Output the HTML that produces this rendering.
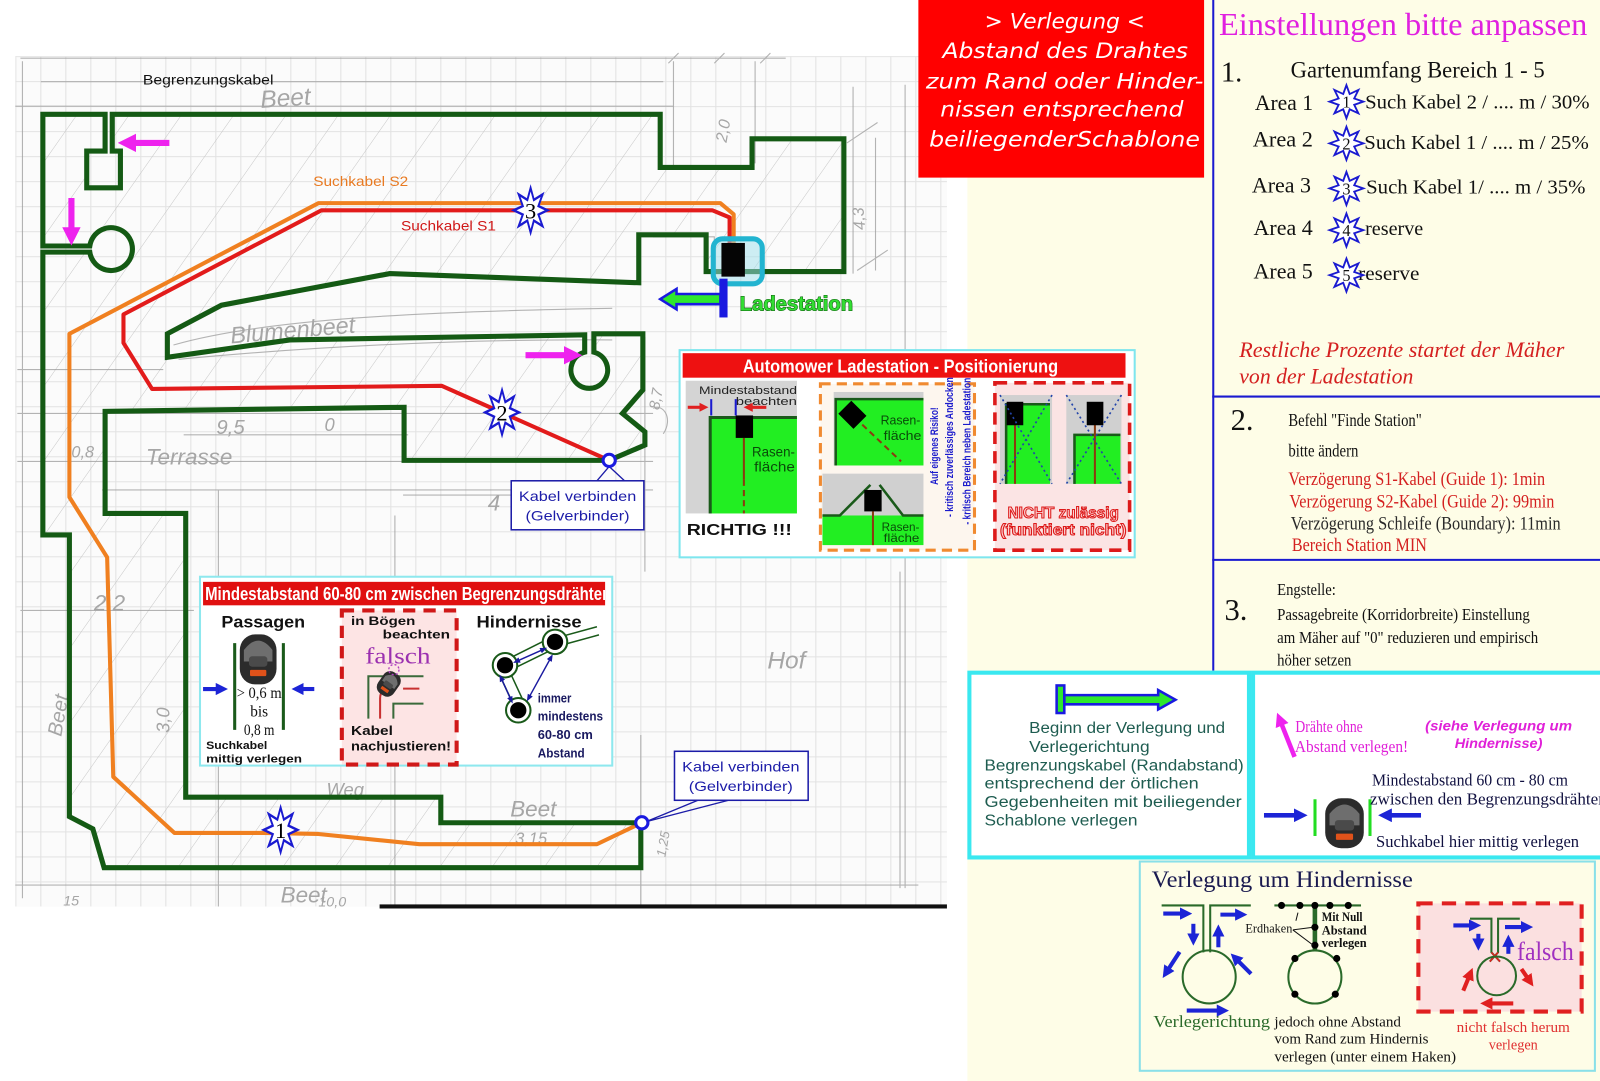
<!DOCTYPE html>
<html><head><meta charset="utf-8"><title>Verlegung Begrenzungskabel</title>
<style>
html,body{margin:0;padding:0;background:#fff;overflow:hidden;}
svg{display:block;}
.ser{font-family:"Liberation Serif","DejaVu Serif",serif;}
.san{font-family:"Liberation Sans","DejaVu Sans",sans-serif;}
.dv{font-family:"DejaVu Sans","Liberation Sans",sans-serif;}
.pen{font-family:"Liberation Sans",sans-serif;font-style:italic;fill:#a6a6a6;}
</style></head><body>
<svg xmlns="http://www.w3.org/2000/svg" width="1600" height="1081" viewBox="0 0 1568 1059" preserveAspectRatio="none">
<defs>
 <pattern id="grid" x="15" y="55" width="24.5" height="24.5" patternUnits="userSpaceOnUse">
  <path d="M0.5 0V24.5M0 0.5H24.5" stroke="#e2e2e2" stroke-width="1" fill="none"/>
 </pattern>
 <pattern id="hatch" width="42" height="42" patternUnits="userSpaceOnUse" patternTransform="rotate(35)">
  <line x1="0" y1="0" x2="0" y2="42" stroke="#c2c2c2" stroke-width="0.9"/>
 </pattern>
 <clipPath id="lawn"><path d="M42,112 H103 V148 H85 V184 H118 V148 H110 V112 H647 V164 H737 V136 H827 V266 H692 V230 H626 V277 L382,268 L217,299 L164,327 L164,350 L284,333 L573,328 V345 A18,18 0 1 0 582,345 V327 H630 V382 L610,405 L632,423 V436 L597,451 H396 V399 L103,403 V503 H182 V781 H432 V806 H628 V850 H102 L91,812 L68,800 V524 H42 V247 H88 A21,21 0 1 0 88,241 H42 Z"/></clipPath>
 <clipPath id="titleclip"><rect x="199" y="570" width="394" height="23"/></clipPath>
 <marker id="mBlue" viewBox="0 0 10 10" refX="3" refY="5" markerWidth="3" markerHeight="3" orient="auto"><path d="M0,0L10,5L0,10z" fill="#1c24d6"/></marker>
 <marker id="mRed" viewBox="0 0 10 10" refX="3" refY="5" markerWidth="3" markerHeight="3" orient="auto"><path d="M0,0L10,5L0,10z" fill="#e02020"/></marker>
 <marker id="mMag" viewBox="0 0 10 10" refX="3" refY="5" markerWidth="3" markerHeight="3" orient="auto"><path d="M0,0L10,5L0,10z" fill="#ee22ee"/></marker>
 <marker id="mNavy" viewBox="0 0 10 10" refX="5" refY="5" markerWidth="5" markerHeight="5" orient="auto-start-reverse"><path d="M0,1L10,5L0,9z" fill="#1a1aa0"/></marker>
 <g id="star"><polygon points="0,-18 3.44,-8.31 12.73,-12.73 8.31,-3.44 18,0 8.31,3.44 12.73,12.73 3.44,8.31 0,18 -3.44,8.31 -12.73,12.73 -8.31,3.44 -18,0 -8.31,-3.44 -12.73,-12.73 -3.44,-8.31" fill="#fff" stroke="#1a1ad0" stroke-width="2"/></g>
 <g id="mower">
  <rect x="-18" y="-24" width="36" height="48" rx="15" fill="#2b2b2b"/>
  <path d="M-14,-9 Q0,-27 14,-9 V2 H-14 Z" fill="#6e6e6e"/>
  <rect x="-9" y="-3" width="18" height="10" rx="3" fill="#4a4a4a"/>
  <rect x="-8" y="10" width="16" height="6" rx="1" fill="#e0521a"/>
 </g>
</defs>

<!-- base backgrounds -->
<rect x="0" y="0" width="1568" height="1059" fill="#ffffff"/>
<rect x="15" y="55" width="913" height="833" fill="#fbfbfb"/>
<rect x="15" y="55" width="913" height="833" fill="url(#grid)"/>
<rect x="948" y="0" width="620" height="1059" fill="#fefde7"/>

<!-- hatching in lawn -->
<rect x="15" y="55" width="913" height="833" fill="url(#hatch)" clip-path="url(#lawn)"/>

<!-- pencil sketch lines -->
<g stroke="#9c9c9c" stroke-width="1.1" fill="none" opacity="0.75">
 <path d="M20,57 H770 M40,80 H650 M15,104 H660 M22,60 V880 M660,60 V165 M740,60 V160 M836,85 V268 M887,83 V870 M858,135 V265"/>
 <path d="M640,232 H700 V275 M17,362 H160 M17,405 H640 M180,426 H400 M17,452 H640 M100,480 H640 M214,480 V888 M387,505 V888 M632,330 V560 M20,598 H190"/>
 <path d="M15,867 H900 M628,720 V888 M882,560 V870 M395,485 H620 M170,338 C260,312 420,305 600,302 M175,352 C300,340 450,332 600,333"/>
 <path d="M640,400 C650,395 660,410 650,425 M700,62 L710,52 M655,62 L665,52 M745,62 L755,52 M830,140 L860,120 M840,265 L870,245"/>
</g>

<!-- handwritten pencil labels -->
<g class="pen">
 <text x="255" y="104" font-size="24" transform="rotate(-4 280 95)">Beet</text>
 <text x="225" y="330" font-size="23" transform="rotate(-5 300 318)">Blumenbeet</text>
 <text x="143" y="455" font-size="22">Terrasse</text>
 <text x="212" y="425" font-size="20">9,5</text>
 <text x="318" y="422" font-size="18">0</text>
 <text x="70" y="448" font-size="16">0,8</text>
 <text x="478" y="500" font-size="22">4</text>
 <text x="92" y="598" font-size="22">2,2</text>
 <text x="752" y="655" font-size="24">Hof</text>
 <text x="320" y="780" font-size="18">Weg</text>
 <text x="500" y="800" font-size="22">Beet</text>
 <text x="505" y="827" font-size="16">3,15</text>
 <text x="275" y="884" font-size="22">Beet</text>
 <text x="62" y="887" font-size="14">15</text>
 <text x="312" y="888" font-size="14">10,0</text>
 <text x="0" y="0" font-size="20" transform="translate(60,722) rotate(-80)">Beet</text>
 <text x="0" y="0" font-size="18" transform="translate(166,718) rotate(-90)">3,0</text>
 <text x="0" y="0" font-size="16" transform="translate(712,140) rotate(-80)">2,0</text>
 <text x="0" y="0" font-size="16" transform="translate(848,225) rotate(-95)">4,3</text>
 <text x="0" y="0" font-size="15" transform="translate(646,402) rotate(-80)">8,7</text>
 <text x="0" y="0" font-size="13" transform="translate(652,840) rotate(-80)">1,25</text>
</g>

<!-- cables -->
<path d="M719,238 V210 L706,199 H312 L68,327 V487 L105,546 L111,761 L171,816 H258 L312,817 L411,827 H585 L629,806" fill="none" stroke="#f08020" stroke-width="4" stroke-linejoin="round"/>
<path d="M715,238 V213 L698,206 H315 L121,308 V336 L149,381 L433,378 L597,451" fill="none" stroke="#e21b1b" stroke-width="4" stroke-linejoin="round"/>
<path d="M42,112 H103 V148 H85 V184 H118 V148 H110 V112 H647 V164 H737 V136 H827 V266 H692 V230 H626 V277 L382,268 L217,299 L164,327 L164,350 L284,333 L573,328 V345 A18,18 0 1 0 582,345 V327 H630 V382 L610,405 L632,423 V436 L597,451 H396 V399 L103,403 V503 H182 V781 H432 V806 H628 V850 H102 L91,812 L68,800 V524 H42 V247 H88 A21,21 0 1 0 88,241 H42 Z" fill="none" stroke="#145a14" stroke-width="5" stroke-linejoin="miter"/>

<!-- bottom black line -->
<rect x="372" y="886" width="556" height="4" fill="#111"/>

<!-- station -->
<rect x="699" y="234" width="48" height="44" rx="9" fill="#9fe0ec" fill-opacity="0.5" stroke="#22b4d0" stroke-width="5"/>
<rect x="707" y="238" width="23" height="33" fill="#050505"/>
<rect x="705" y="273" width="8" height="38" fill="#1a1ae0"/>
<path d="M706,288 H663 V283 L647,293 L663,303 V298 H706 Z" fill="#2ee82e" stroke="#1a1ae0" stroke-width="2.5"/>
<text class="san" x="725" y="304" font-size="20" font-weight="bold" fill="#33dd33" stroke="#0b600b" stroke-width="1.1" paint-order="stroke" textLength="111" lengthAdjust="spacingAndGlyphs">Ladestation</text>

<!-- magenta arrows map -->
<line x1="166" y1="140" x2="128" y2="140" stroke="#ee22ee" stroke-width="6" marker-end="url(#mMag)"/>
<line x1="70" y1="194" x2="70" y2="228" stroke="#ee22ee" stroke-width="6" marker-end="url(#mMag)"/>
<line x1="515" y1="348" x2="558" y2="348" stroke="#ee22ee" stroke-width="6" marker-end="url(#mMag)"/>

<!-- map labels -->
<text class="san" x="140" y="83" font-size="14" fill="#111" textLength="128" lengthAdjust="spacingAndGlyphs">Begrenzungskabel</text>
<text class="san" x="307" y="182" font-size="14" fill="#e87a22" textLength="93" lengthAdjust="spacingAndGlyphs">Suchkabel S2</text>
<text class="san" x="393" y="226" font-size="14" fill="#d01818" textLength="93" lengthAdjust="spacingAndGlyphs">Suchkabel S1</text>

<!-- stars on map -->
<g transform="translate(520,206) scale(0.92,1.22)"><use href="#star"/></g>
<text class="ser" x="520" y="214" font-size="22" text-anchor="middle" fill="#000">3</text>
<g transform="translate(492,404) scale(0.92,1.22)"><use href="#star"/></g>
<text class="ser" x="492" y="412" font-size="22" text-anchor="middle" fill="#000">2</text>
<g transform="translate(275,813) scale(0.92,1.22)"><use href="#star"/></g>
<text class="ser" x="275" y="821" font-size="22" text-anchor="middle" fill="#000">1</text>

<!-- connectors & callouts -->
<path d="M585,471 L597,457 L612,471" fill="none" stroke="#1c1ca8" stroke-width="1.3"/>
<circle cx="597" cy="451" r="6" fill="#fff" stroke="#1a1ae0" stroke-width="3"/>
<rect x="501" y="471" width="130" height="48" fill="#fff" stroke="#1c1ca8" stroke-width="1.5"/>
<text class="san" x="566" y="491" font-size="14" fill="#1c1ca8" text-anchor="middle" textLength="115" lengthAdjust="spacingAndGlyphs">Kabel verbinden</text>
<text class="san" x="566" y="510" font-size="14" fill="#1c1ca8" text-anchor="middle" textLength="102" lengthAdjust="spacingAndGlyphs">(Gelverbinder)</text>

<path d="M684,784 L633,805 L714,784" fill="none" stroke="#1c1ca8" stroke-width="1.3"/>
<circle cx="629" cy="806" r="6" fill="#fff" stroke="#1a1ae0" stroke-width="3"/>
<rect x="661" y="736" width="131" height="48" fill="#fff" stroke="#1c1ca8" stroke-width="1.5"/>
<text class="san" x="726" y="756" font-size="14" fill="#1c1ca8" text-anchor="middle" textLength="115" lengthAdjust="spacingAndGlyphs">Kabel verbinden</text>
<text class="san" x="726" y="775" font-size="14" fill="#1c1ca8" text-anchor="middle" textLength="102" lengthAdjust="spacingAndGlyphs">(Gelverbinder)</text>

<!-- ===== Ladestation positioning box ===== -->
<rect x="666" y="343" width="446" height="203" fill="#fff" stroke="#7ee6ee" stroke-width="2"/>
<rect x="669" y="346" width="434" height="24" fill="#ee1111"/>
<text class="san" x="882.5" y="365" font-size="18" font-weight="bold" fill="#fff" text-anchor="middle" textLength="309" lengthAdjust="spacingAndGlyphs">Automower Ladestation - Positionierung</text>
<!-- panel 1 -->
<rect x="672" y="373" width="109" height="130" fill="#d4d4d4"/>
<rect x="695" y="409" width="86" height="94" fill="#22ee22"/>
<path d="M696,503 V409 H781" fill="none" stroke="#1a5a1a" stroke-width="3"/>
<line x1="729" y1="429" x2="729" y2="470" stroke="#8b3a10" stroke-width="2"/>
<line x1="729" y1="470" x2="729" y2="503" stroke="#8b3a10" stroke-width="2" stroke-dasharray="6 4"/>
<rect x="721" y="407" width="17" height="22" fill="#000"/>
<text class="san" x="781" y="386" font-size="11" fill="#222" text-anchor="end" textLength="96" lengthAdjust="spacingAndGlyphs">Mindestabstand</text>
<text class="san" x="781" y="397" font-size="11" fill="#222" text-anchor="end" textLength="60" lengthAdjust="spacingAndGlyphs">beachten</text>
<line x1="674" y1="399" x2="688" y2="399" stroke="#e02020" stroke-width="3" marker-end="url(#mRed)"/>
<line x1="751" y1="399" x2="735" y2="399" stroke="#e02020" stroke-width="3" marker-end="url(#mRed)"/>
<line x1="697" y1="391" x2="697" y2="407" stroke="#1a1ad0" stroke-width="2"/>
<line x1="721" y1="391" x2="721" y2="407" stroke="#1a1ad0" stroke-width="2"/>
<text class="san" x="737" y="447" font-size="14" fill="#0a4a0a" textLength="42" lengthAdjust="spacingAndGlyphs">Rasen-</text>
<text class="san" x="739" y="462" font-size="14" fill="#0a4a0a" textLength="40" lengthAdjust="spacingAndGlyphs">fläche</text>
<text class="san" x="673" y="524" font-size="15" font-weight="bold" fill="#111" textLength="103" lengthAdjust="spacingAndGlyphs">RICHTIG !!!</text>
<!-- panel 2 -->
<rect x="804" y="376" width="151" height="163" fill="#fdf6ee" stroke="#f08a30" stroke-width="3" stroke-dasharray="10 6"/>
<rect x="817" y="384" width="88" height="72" fill="#d0d0d0"/>
<rect x="818" y="390" width="87" height="66" fill="#22ee22"/>
<path d="M819,456 V391 H905" fill="none" stroke="#1a5a1a" stroke-width="2.5"/>
<line x1="845" y1="416" x2="883" y2="452" stroke="#8b3a10" stroke-width="2" stroke-dasharray="6 4"/>
<rect x="826" y="396" width="18" height="21" fill="#000" transform="rotate(-45 835 406)"/>
<text class="san" x="863" y="416" font-size="13" fill="#0a4a0a" textLength="39" lengthAdjust="spacingAndGlyphs">Rasen-</text>
<text class="san" x="866" y="431" font-size="13" fill="#0a4a0a" textLength="37" lengthAdjust="spacingAndGlyphs">fläche</text>
<rect x="806" y="464" width="99" height="41" fill="#d0d0d0"/>
<rect x="806" y="505" width="99" height="29" fill="#22ee22"/>
<path d="M806,505 H823 L853,475 M862,475 L885,505 H905" fill="none" stroke="#1a5a1a" stroke-width="2.5"/>
<line x1="855.5" y1="501" x2="855.5" y2="534" stroke="#8b3a10" stroke-width="2"/>
<rect x="847" y="480" width="17" height="21" fill="#000"/>
<text class="san" x="864" y="520" font-size="12" fill="#0a4a0a" textLength="37" lengthAdjust="spacingAndGlyphs">Rasen-</text>
<text class="san" x="866" y="531" font-size="12" fill="#0a4a0a" textLength="35" lengthAdjust="spacingAndGlyphs">fläche</text>
<g class="san" font-size="10.5" font-weight="bold" fill="#1a1acc">
 <text x="0" y="0" text-anchor="middle" transform="translate(919,437) rotate(-90)" textLength="76" lengthAdjust="spacingAndGlyphs">Auf eigenes Risiko!</text>
 <text x="0" y="0" text-anchor="middle" transform="translate(934,438) rotate(-90)" textLength="137" lengthAdjust="spacingAndGlyphs">- kritisch zuverlässiges Andocken</text>
 <text x="0" y="0" text-anchor="middle" transform="translate(951,442) rotate(-90)" textLength="144" lengthAdjust="spacingAndGlyphs">- kritisch Bereich neben Ladestation</text>
</g>
<!-- panel 3 -->
<rect x="975" y="375" width="132" height="164" fill="#fbe4e4" stroke="#dd1a1a" stroke-width="3.5" stroke-dasharray="12 7"/>
<rect x="980" y="387" width="51" height="87" fill="#d0d0d0"/>
<rect x="985" y="395" width="44" height="79" fill="#22ee22"/>
<path d="M986,474 V396 H1029" fill="none" stroke="#1a5a1a" stroke-width="2.5"/>
<line x1="994.7" y1="416" x2="994.7" y2="474" stroke="#8b3a10" stroke-width="2"/>
<rect x="986.5" y="393.6" width="16.3" height="23" fill="#000"/>
<path d="M980,387 L1031,474 M1031,387 L980,474" stroke="#2244aa" stroke-width="1.6" stroke-dasharray="2 3"/>
<rect x="1045" y="387" width="54" height="87" fill="#d0d0d0"/>
<rect x="1052" y="425" width="46" height="49" fill="#22ee22"/>
<path d="M1053,474 V426 H1098" fill="none" stroke="#1a5a1a" stroke-width="2.5"/>
<line x1="1073" y1="416" x2="1073" y2="474" stroke="#8b3a10" stroke-width="2"/>
<rect x="1065" y="393.6" width="16.3" height="23" fill="#000"/>
<path d="M1045,387 L1099,474 M1099,387 L1045,474" stroke="#2244aa" stroke-width="1.6" stroke-dasharray="2 3"/>
<text class="san" x="1042" y="507.7" font-size="15" font-weight="bold" fill="#fbd0d0" stroke="#dd1a1a" stroke-width="1" text-anchor="middle" textLength="109" lengthAdjust="spacingAndGlyphs">NICHT zulässig</text>
<text class="san" x="1042" y="524" font-size="15" font-weight="bold" fill="#fbd0d0" stroke="#dd1a1a" stroke-width="1" text-anchor="middle" textLength="124" lengthAdjust="spacingAndGlyphs">(funktiert nicht)</text>

<!-- ===== Mindestabstand box ===== -->
<rect x="196" y="565" width="404" height="185" fill="#fff" stroke="#8ee8ee" stroke-width="2"/>
<rect x="199" y="570" width="394" height="23" fill="#e01010"/>
<text class="san" x="201" y="588" font-size="18" font-weight="bold" fill="#fff" textLength="398" lengthAdjust="spacingAndGlyphs" clip-path="url(#titleclip)">Mindestabstand 60-80 cm zwischen Begrenzungsdrähten</text>
<text class="san" x="217" y="614.5" font-size="16" font-weight="bold" fill="#111" textLength="82" lengthAdjust="spacingAndGlyphs">Passagen</text>
<line x1="230" y1="630" x2="230" y2="715" stroke="#1a5a1a" stroke-width="3"/>
<line x1="277.7" y1="630" x2="277.7" y2="715" stroke="#1a5a1a" stroke-width="3"/>
<g transform="translate(253,646) scale(1,1.02)"><use href="#mower"/></g>
<line x1="199" y1="675" x2="215" y2="675" stroke="#1c24d6" stroke-width="4" marker-end="url(#mBlue)"/>
<line x1="308" y1="675" x2="294" y2="675" stroke="#1c24d6" stroke-width="4" marker-end="url(#mBlue)"/>
<text class="ser" x="254" y="684" font-size="15" fill="#111" text-anchor="middle" textLength="44" lengthAdjust="spacingAndGlyphs">&gt; 0,6 m</text>
<text class="ser" x="254" y="702" font-size="15" fill="#111" text-anchor="middle">bis</text>
<text class="ser" x="254" y="720" font-size="15" fill="#111" text-anchor="middle" textLength="30" lengthAdjust="spacingAndGlyphs">0,8 m</text>
<text class="san" x="202" y="734" font-size="11" font-weight="bold" fill="#111" textLength="60" lengthAdjust="spacingAndGlyphs">Suchkabel</text>
<text class="san" x="202" y="747" font-size="11" font-weight="bold" fill="#111" textLength="94" lengthAdjust="spacingAndGlyphs">mittig verlegen</text>
<!-- middle dashed -->
<rect x="335" y="598" width="112.5" height="151" fill="#fde4e4" stroke="#d01818" stroke-width="4" stroke-dasharray="12 8"/>
<text class="san" x="344" y="612.5" font-size="12" font-weight="bold" fill="#111" textLength="63" lengthAdjust="spacingAndGlyphs">in Bögen</text>
<text class="san" x="441" y="625.6" font-size="12" font-weight="bold" fill="#111" text-anchor="end" textLength="66" lengthAdjust="spacingAndGlyphs">beachten</text>
<text class="ser" x="390" y="650" font-size="23" fill="#9b30b0" text-anchor="middle" textLength="64" lengthAdjust="spacingAndGlyphs">falsch</text>
<path d="M361,704 V662.5 H415 M385.5,704 V689.3 H415" fill="none" stroke="#3a6a3a" stroke-width="2"/>
<path d="M372.5,704 V684 Q372.5,676 380,676 M395,674.6 H411" fill="none" stroke="#c83030" stroke-width="2"/>
<g transform="translate(381,670) rotate(35) scale(0.52)"><use href="#mower"/></g>
<circle cx="386" cy="656" r="5" fill="none" stroke="#b040c0" stroke-width="1.3" stroke-dasharray="2 2"/>
<text class="san" x="344" y="720" font-size="13" font-weight="bold" fill="#111" textLength="41" lengthAdjust="spacingAndGlyphs">Kabel</text>
<text class="san" x="344" y="735" font-size="13" font-weight="bold" fill="#111" textLength="98" lengthAdjust="spacingAndGlyphs">nachjustieren!</text>
<!-- Hindernisse -->
<text class="san" x="467" y="614.5" font-size="16" font-weight="bold" fill="#111" textLength="103" lengthAdjust="spacingAndGlyphs">Hindernisse</text>
<g fill="none" stroke="#1a5a1a" stroke-width="1.5">
 <path d="M497,646 L541,624 M499,657 L546,634 M490,662 L503,690 M500,659 L513,687 M552,623 L585,614 M554,631 L587,622"/>
</g>
<g fill="#fff" stroke="#1a5a1a" stroke-width="2">
 <circle cx="494.9" cy="651.7" r="12"/><circle cx="543.9" cy="628.8" r="12"/><circle cx="507.9" cy="695.8" r="12"/>
</g>
<g fill="#000"><circle cx="494.9" cy="651.7" r="8"/><circle cx="543.9" cy="628.8" r="8"/><circle cx="507.9" cy="695.8" r="8"/></g>
<g stroke="#1a1aa0" stroke-width="1.4" fill="none">
 <line x1="506" y1="648" x2="533" y2="636" marker-start="url(#mNavy)" marker-end="url(#mNavy)"/>
 <line x1="491" y1="664" x2="501" y2="686" marker-start="url(#mNavy)" marker-end="url(#mNavy)"/>
 <line x1="540" y1="644" x2="518" y2="684" marker-start="url(#mNavy)" marker-end="url(#mNavy)"/>
</g>
<g class="san" font-size="13" font-weight="bold" fill="#1a1a60">
 <text x="527" y="688" textLength="33" lengthAdjust="spacingAndGlyphs">immer</text>
 <text x="527" y="706" textLength="64" lengthAdjust="spacingAndGlyphs">mindestens</text>
 <text x="527" y="724" textLength="54" lengthAdjust="spacingAndGlyphs">60-80 cm</text>
 <text x="527" y="742" textLength="46" lengthAdjust="spacingAndGlyphs">Abstand</text>
</g>

<!-- ===== Red Verlegung box ===== -->
<rect x="900" y="0" width="280" height="174" fill="#ff0000"/>
<g class="dv" font-style="italic" font-size="21" fill="#fff">
 <text x="965" y="28" textLength="157" lengthAdjust="spacingAndGlyphs">&gt; Verlegung &lt;</text>
 <text x="923.6" y="57" textLength="240.6" lengthAdjust="spacingAndGlyphs">Abstand des Drahtes</text>
 <text x="907.4" y="86.6" textLength="272" lengthAdjust="spacingAndGlyphs">zum Rand oder Hinder-</text>
 <text x="921.4" y="114.3" textLength="238.4" lengthAdjust="spacingAndGlyphs">nissen entsprechend</text>
 <text x="910.5" y="143.7" textLength="265.5" lengthAdjust="spacingAndGlyphs">beiliegenderSchablone</text>
</g>

<!-- ===== Right settings panel ===== -->
<line x1="1189" y1="0" x2="1189" y2="657" stroke="#1a1ad0" stroke-width="2"/>
<line x1="1188" y1="388.5" x2="1568" y2="388.5" stroke="#1a1ad0" stroke-width="2"/>
<line x1="1188" y1="548.5" x2="1568" y2="548.5" stroke="#1a1ad0" stroke-width="2"/>
<g class="ser">
 <text x="1194.6" y="34.3" font-size="31" fill="#e020e0" textLength="361" lengthAdjust="spacingAndGlyphs">Einstellungen bitte anpassen</text>
 <text x="1196.5" y="80" font-size="28" fill="#111">1.</text>
 <text x="1264.8" y="75.8" font-size="23" fill="#111" textLength="249" lengthAdjust="spacingAndGlyphs">Gartenumfang Bereich 1 - 5</text>
 <g font-size="22" fill="#111">
  <text x="1229.8" y="107.8" textLength="57" lengthAdjust="spacingAndGlyphs">Area 1</text>
  <text x="1227.7" y="143.7" textLength="59" lengthAdjust="spacingAndGlyphs">Area 2</text>
  <text x="1226.8" y="188.8" textLength="58" lengthAdjust="spacingAndGlyphs">Area 3</text>
  <text x="1228.5" y="230.3" textLength="58" lengthAdjust="spacingAndGlyphs">Area 4</text>
  <text x="1228.5" y="272.8" textLength="58" lengthAdjust="spacingAndGlyphs">Area 5</text>
 </g>
 <g font-size="20" fill="#111">
  <text x="1337.8" y="106.2" textLength="220" lengthAdjust="spacingAndGlyphs">Such Kabel 2 / .... m / 30%</text>
  <text x="1337" y="146" textLength="220" lengthAdjust="spacingAndGlyphs">Such Kabel 1 / .... m / 25%</text>
  <text x="1338.8" y="189.5" textLength="215" lengthAdjust="spacingAndGlyphs">Such Kabel 1/ .... m / 35%</text>
  <text x="1337.8" y="230.3" textLength="57" lengthAdjust="spacingAndGlyphs">reserve</text>
  <text x="1331" y="274.4" textLength="60" lengthAdjust="spacingAndGlyphs">reserve</text>
 </g>
</g>
<g transform="translate(1319.5,99.6) scale(0.92,0.9)"><use href="#star"/></g>
<g transform="translate(1319.5,140.4) scale(0.92,0.9)"><use href="#star"/></g>
<g transform="translate(1319.5,184.6) scale(0.92,0.9)"><use href="#star"/></g>
<g transform="translate(1319.5,225.4) scale(0.92,0.9)"><use href="#star"/></g>
<g transform="translate(1319.5,269.5) scale(0.92,0.9)"><use href="#star"/></g>
<g class="ser" font-size="16" fill="#111" text-anchor="middle">
 <text x="1319.5" y="105.5">1</text><text x="1319.5" y="146.3">2</text><text x="1319.5" y="190.5">3</text><text x="1319.5" y="231.3">4</text><text x="1319.5" y="275.4">5</text>
</g>
<g class="ser" font-style="italic" font-size="22" fill="#d42020">
 <text x="1214.5" y="349.5" textLength="318.5" lengthAdjust="spacingAndGlyphs">Restliche Prozente  startet der Mäher</text>
 <text x="1214.5" y="375.7" textLength="170.6" lengthAdjust="spacingAndGlyphs">von der Ladestation</text>
</g>
<g class="ser">
 <text x="1206" y="421.4" font-size="30" fill="#111">2.</text>
 <text x="1262.6" y="417.4" font-size="18" fill="#111" textLength="130.7" lengthAdjust="spacingAndGlyphs">Befehl "Finde Station"</text>
 <text x="1262.6" y="447" font-size="18" fill="#111" textLength="68.6" lengthAdjust="spacingAndGlyphs">bitte ändern</text>
 <text x="1262.6" y="475.3" font-size="19" fill="#d42020" textLength="251.6" lengthAdjust="spacingAndGlyphs">Verzögerung S1-Kabel (Guide 1): 1min</text>
 <text x="1263.6" y="497.2" font-size="19" fill="#d42020" textLength="259.7" lengthAdjust="spacingAndGlyphs">Verzögerung S2-Kabel (Guide 2): 99min</text>
 <text x="1264.9" y="518.8" font-size="19" fill="#2a2a2a" textLength="264.6" lengthAdjust="spacingAndGlyphs">Verzögerung Schleife (Boundary): 11min</text>
 <text x="1266" y="539.8" font-size="19" fill="#d42020" textLength="132.3" lengthAdjust="spacingAndGlyphs">Bereich Station MIN</text>
 <text x="1200" y="607.6" font-size="30" fill="#111">3.</text>
 <text x="1251.6" y="583.1" font-size="17" fill="#111" textLength="57.5" lengthAdjust="spacingAndGlyphs">Engstelle:</text>
 <text x="1251.6" y="607.6" font-size="17" fill="#111" textLength="247.6" lengthAdjust="spacingAndGlyphs">Passagebreite (Korridorbreite) Einstellung</text>
 <text x="1251.6" y="629.9" font-size="17" fill="#111" textLength="255.8" lengthAdjust="spacingAndGlyphs">am Mäher auf "0" reduzieren und empirisch</text>
 <text x="1251.6" y="651.8" font-size="17" fill="#111" textLength="72.8" lengthAdjust="spacingAndGlyphs">höher setzen</text>
</g>

<!-- ===== Box A ===== -->
<rect x="950" y="659" width="274" height="181" fill="#fff" stroke="#3ae8f0" stroke-width="4"/>
<path d="M1043,681 H1135 V676 L1152,685.5 L1135,695 V690 H1043 Z" fill="#2ee82e" stroke="#1a1ae0" stroke-width="2.5"/>
<rect x="1035.5" y="671.5" width="7.5" height="27" fill="#2ee82e" stroke="#1a1ae0" stroke-width="2.5"/>
<g class="san" font-size="15.5" fill="#1e5c50">
 <text x="1008.6" y="718" textLength="192" lengthAdjust="spacingAndGlyphs">Beginn der Verlegung und</text>
 <text x="1008.6" y="736.7" textLength="118" lengthAdjust="spacingAndGlyphs">Verlegerichtung</text>
 <text x="964.8" y="754.6" textLength="254" lengthAdjust="spacingAndGlyphs">Begrenzungskabel (Randabstand)</text>
 <text x="964.8" y="772.6" textLength="210" lengthAdjust="spacingAndGlyphs">entsprechend der örtlichen</text>
 <text x="964.8" y="790.5" textLength="252" lengthAdjust="spacingAndGlyphs">Gegebenheiten mit beiliegender</text>
 <text x="964.8" y="808.5" textLength="150" lengthAdjust="spacingAndGlyphs">Schablone verlegen</text>
</g>

<!-- ===== Box B ===== -->
<rect x="1228" y="659" width="342" height="181" fill="#fff" stroke="#3ae8f0" stroke-width="4"/>
<line x1="1268.7" y1="741.5" x2="1255" y2="707" stroke="#ee22ee" stroke-width="4.5" marker-end="url(#mMag)"/>
<g class="ser" font-size="17" fill="#e020d8">
 <text x="1269.5" y="717" textLength="66" lengthAdjust="spacingAndGlyphs">Drähte ohne</text>
 <text x="1269" y="736.6" textLength="111" lengthAdjust="spacingAndGlyphs">Abstand verlegen!</text>
</g>
<g class="san" font-size="14" font-style="italic" font-weight="bold" fill="#e020d8" text-anchor="middle">
 <text x="1468.6" y="715.4" textLength="144" lengthAdjust="spacingAndGlyphs">(siehe Verlegung um</text>
 <text x="1468.6" y="733" textLength="86" lengthAdjust="spacingAndGlyphs">Hindernisse)</text>
</g>
<line x1="1288.7" y1="783" x2="1288.7" y2="819" stroke="#22dd22" stroke-width="3"/>
<line x1="1342.6" y1="783" x2="1342.6" y2="819" stroke="#22dd22" stroke-width="3"/>
<g transform="translate(1317.6,806.5) scale(1.05,1.02)"><use href="#mower"/></g>
<line x1="1238.7" y1="798.7" x2="1272" y2="798.7" stroke="#1c24d6" stroke-width="4.5" marker-end="url(#mBlue)"/>
<line x1="1392.6" y1="798.7" x2="1360" y2="798.7" stroke="#1c24d6" stroke-width="4.5" marker-end="url(#mBlue)"/>
<g class="ser" font-size="16" fill="#101040">
 <text x="1344.6" y="769.3" textLength="192" lengthAdjust="spacingAndGlyphs">Mindestabstand 60 cm - 80 cm</text>
 <text x="1342.6" y="788" textLength="232" lengthAdjust="spacingAndGlyphs">zwischen den Begrenzungsdrähten</text>
 <text x="1348.5" y="829.7" textLength="199" lengthAdjust="spacingAndGlyphs">Suchkabel hier mittig verlegen</text>
</g>

<!-- ===== Box C ===== -->
<rect x="1117" y="844" width="446" height="205" fill="#fefde7" stroke="#8ae0e8" stroke-width="2"/>
<text class="ser" x="1128.6" y="869" font-size="23" fill="#1a1a50" textLength="256" lengthAdjust="spacingAndGlyphs">Verlegung um Hindernisse</text>
<!-- diagram 1 -->
<path d="M1138.4,887 H1179.3 V933 M1225.8,887 H1186 V933" fill="none" stroke="#2a6a2a" stroke-width="2"/>
<circle cx="1185" cy="957" r="26" fill="none" stroke="#2a6a2a" stroke-width="2"/>
<g stroke="#1c24d6" stroke-width="4">
 <line x1="1140" y1="895" x2="1160" y2="895" marker-end="url(#mBlue)"/>
 <line x1="1169.5" y1="905" x2="1169.5" y2="918" marker-end="url(#mBlue)"/>
 <line x1="1194" y1="928" x2="1194" y2="914" marker-end="url(#mBlue)"/>
 <line x1="1196" y1="896" x2="1214" y2="896" marker-end="url(#mBlue)"/>
 <line x1="1156" y1="932.5" x2="1144" y2="951" marker-end="url(#mBlue)"/>
 <line x1="1226" y1="954" x2="1212" y2="940" marker-end="url(#mBlue)"/>
 <line x1="1163" y1="990" x2="1196" y2="990" marker-end="url(#mBlue)"/>
</g>
<text class="ser" x="1130.3" y="1006.2" font-size="16" fill="#2a6a2a" textLength="114.3" lengthAdjust="spacingAndGlyphs">Verlegerichtung</text>
<!-- diagram 2 -->
<line x1="1248.9" y1="887" x2="1333.8" y2="887" stroke="#2a6a2a" stroke-width="2"/>
<line x1="1288.6" y1="887" x2="1288.6" y2="931" stroke="#2a6a2a" stroke-width="4.5"/>
<circle cx="1288.6" cy="957.1" r="26" fill="none" stroke="#2a6a2a" stroke-width="2"/>
<g fill="#000">
 <circle cx="1255.9" cy="887" r="3.5"/><circle cx="1273.9" cy="887" r="3.5"/><circle cx="1288.6" cy="887" r="3.5"/><circle cx="1303.3" cy="887" r="3.5"/><circle cx="1321.3" cy="887" r="3.5"/>
 <circle cx="1288.6" cy="908.4" r="3.5"/><circle cx="1288.6" cy="926" r="3.5"/>
 <circle cx="1269" cy="939" r="3.5"/><circle cx="1310" cy="939" r="3.5"/><circle cx="1269" cy="974" r="3.5"/><circle cx="1308.6" cy="974" r="3.5"/>
</g>
<path d="M1267,911 L1287,908.4 M1267,911 L1287,926 M1272,894 L1270,902" stroke="#111" stroke-width="1" fill="none"/>
<text class="ser" x="1220.5" y="913.6" font-size="12" fill="#111" textLength="46" lengthAdjust="spacingAndGlyphs">Erdhaken</text>
<g class="ser" font-size="12" font-weight="bold" fill="#111">
 <text x="1295.3" y="902.5" textLength="40" lengthAdjust="spacingAndGlyphs">Mit Null</text>
 <text x="1295.3" y="915.5" textLength="44" lengthAdjust="spacingAndGlyphs">Abstand</text>
 <text x="1295.3" y="927.6" textLength="44" lengthAdjust="spacingAndGlyphs">verlegen</text>
</g>
<g class="ser" font-size="14" fill="#111">
 <text x="1248.9" y="1005.5" textLength="124" lengthAdjust="spacingAndGlyphs">jedoch ohne Abstand</text>
 <text x="1248.9" y="1022.5" textLength="151" lengthAdjust="spacingAndGlyphs">vom Rand zum Hindernis</text>
 <text x="1248.9" y="1039.8" textLength="178" lengthAdjust="spacingAndGlyphs">verlegen (unter einem Haken)</text>
</g>
<!-- diagram 3 -->
<rect x="1390" y="885" width="160" height="106" fill="#fbe0e0" stroke="#e02020" stroke-width="4" stroke-dasharray="14 9"/>
<path d="M1440.6,900 H1461.6 V933 L1470,942 M1489.4,900 H1468.1 V933 L1460,942" fill="none" stroke="#2a6a2a" stroke-width="2"/>
<path d="M1461.6,933 L1470,942 M1468.1,933 L1460,942" fill="none" stroke="#e02020" stroke-width="1.5"/>
<circle cx="1466.7" cy="956" r="19" fill="none" stroke="#2a6a2a" stroke-width="2"/>
<g stroke="#1c24d6" stroke-width="4">
 <line x1="1424.3" y1="906.6" x2="1443" y2="906.6" marker-end="url(#mBlue)"/>
 <line x1="1448.8" y1="914.8" x2="1448.8" y2="923" marker-end="url(#mBlue)"/>
 <line x1="1478.2" y1="934.4" x2="1478.2" y2="924" marker-end="url(#mBlue)"/>
 <line x1="1474.9" y1="908.2" x2="1494" y2="908.2" marker-end="url(#mBlue)"/>
</g>
<g stroke="#e02020" stroke-width="4">
 <line x1="1434" y1="970.5" x2="1440" y2="956" marker-end="url(#mRed)"/>
 <line x1="1491" y1="949.3" x2="1498" y2="959.5" marker-end="url(#mRed)"/>
 <line x1="1483" y1="983" x2="1459" y2="983" marker-end="url(#mRed)"/>
</g>
<text class="ser" x="1486.7" y="940.7" font-size="26" fill="#a030c0" textLength="55.5" lengthAdjust="spacingAndGlyphs">falsch</text>
<g class="ser" font-size="14" fill="#e03030" text-anchor="middle">
 <text x="1483" y="1011" textLength="111" lengthAdjust="spacingAndGlyphs">nicht falsch herum</text>
 <text x="1483" y="1028">verlegen</text>
</g>
</svg>
</body></html>
